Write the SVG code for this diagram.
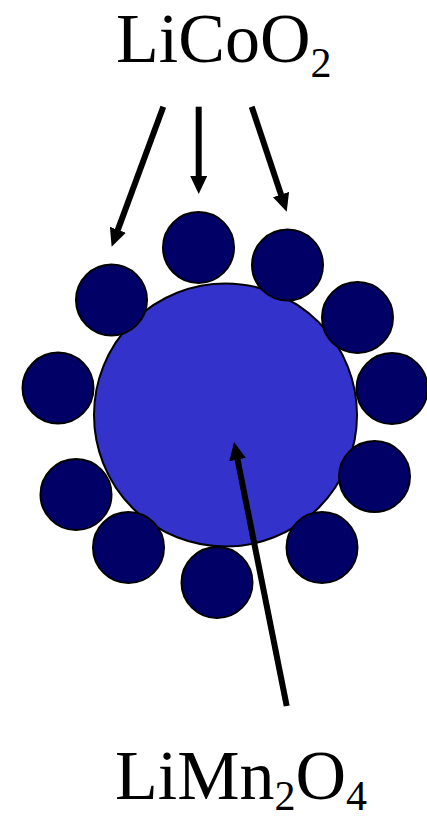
<svg xmlns="http://www.w3.org/2000/svg" width="427" height="820" viewBox="0 0 427 820">
<style>
.big{fill:#3333CC;stroke:#000;stroke-width:2}
.small{fill:#000066;stroke:#000;stroke-width:2}
.arr{stroke:#000;stroke-width:6;fill:none;marker-end:url(#ah)}
.lbl{font-family:"Liberation Serif","Times New Roman",serif;font-size:70px;fill:#000}
</style>
<defs>
<marker id="ah" markerUnits="userSpaceOnUse" markerWidth="18" markerHeight="17" refX="6" refY="8.5" orient="auto" viewBox="0 0 18 17">
<path d="M0,0 L18,8.5 L0,17 z" fill="#000"/>
</marker>
</defs>
<g id="core"><circle class="big" cx="225.5" cy="415" r="131.5"/></g>
<g id="particles">
<circle class="small" cx="111.5" cy="300" r="35.5"/>
<circle class="small" cx="198.5" cy="247.5" r="35.5"/>
<circle class="small" cx="287.5" cy="265" r="35.5"/>
<circle class="small" cx="357.5" cy="317.5" r="35.5"/>
<circle class="small" cx="392" cy="388.5" r="35.5"/>
<circle class="small" cx="374.5" cy="476.5" r="35.5"/>
<circle class="small" cx="322" cy="547.5" r="35.5"/>
<circle class="small" cx="217" cy="582.5" r="35.5"/>
<circle class="small" cx="128.5" cy="547.5" r="35.5"/>
<circle class="small" cx="76" cy="494.5" r="35.5"/>
<circle class="small" cx="58" cy="388" r="35.5"/>
</g>
<g id="connectors">
<line class="arr" x1="163.3" y1="106.7" x2="115.8" y2="235.4"/>
<line class="arr" x1="198.7" y1="106.7" x2="198.7" y2="182"/>
<line class="arr" x1="251.7" y1="106.7" x2="282.9" y2="200.3"/>
<line class="arr" x1="286.7" y1="706" x2="236.4" y2="453.8"/>
</g>
<g id="label-licoo2"><text class="lbl" x="116" y="62">LiCoO<tspan font-size="42" dy="15">2</tspan></text></g>
<g id="label-limn2o4"><text class="lbl" x="115" y="799">LiMn<tspan font-size="42" dy="11">2</tspan><tspan dy="-11">O</tspan><tspan font-size="42" dy="11">4</tspan></text></g>
</svg>
